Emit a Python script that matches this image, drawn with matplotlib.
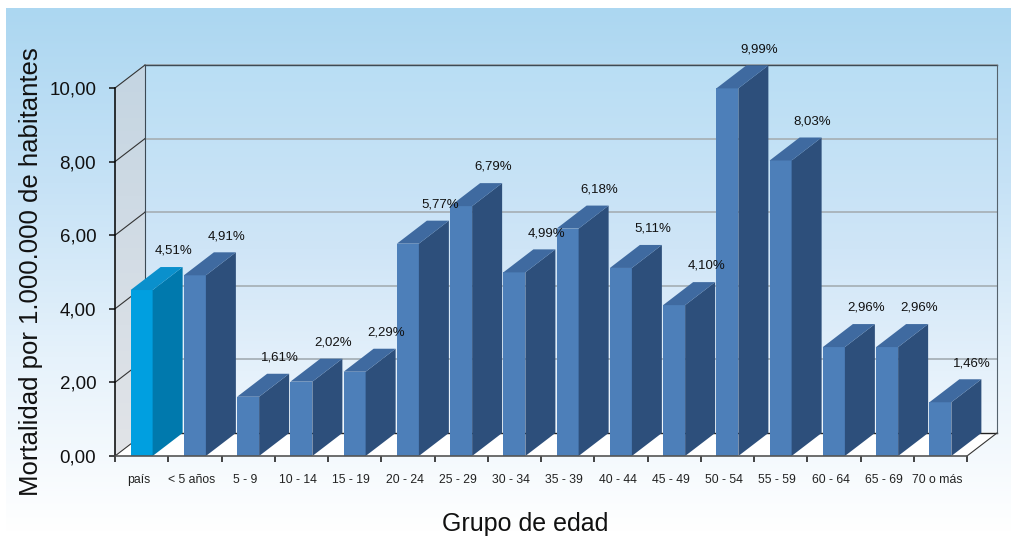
import numpy as np
import matplotlib
matplotlib.use('Agg')
import matplotlib.pyplot as plt
from matplotlib.colors import LinearSegmentedColormap
from matplotlib.patches import Polygon

plt.rcParams['font.family'] = ['Liberation Sans', 'DejaVu Sans']

groups = ['país', '< 5 años', '5 - 9', '10 - 14', '15 - 19', '20 - 24', '25 - 29', '30 - 34',
          '35 - 39', '40 - 44', '45 - 49', '50 - 54', '55 - 59', '60 - 64', '65 - 69', '70 o más']
values = [4.51, 4.91, 1.61, 2.02, 2.29, 5.77, 6.79, 4.99, 6.18, 5.11, 4.10, 9.99, 8.03, 2.96, 2.96, 1.46]
labels = ['4,51%', '4,91%', '1,61%', '2,02%', '2,29%', '5,77%', '6,79%', '4,99%',
          '6,18%', '5,11%', '4,10%', '9,99%', '8,03%', '2,96%', '2,96%', '1,46%']
yticks = [0, 2, 4, 6, 8, 10]
ylabels = ['0,00', '2,00', '4,00', '6,00', '8,00', '10,00']

W, H = 1011, 538
fig = plt.figure(figsize=(W / 100, H / 100), dpi=100, facecolor='white')

# background panel with the vertical fade
bg = fig.add_axes([0, 0, 1, 1])
fade = LinearSegmentedColormap.from_list('fade', ['#acd7f1', '#c6e2f6', '#e6f2fb', '#ffffff'])
bg.imshow(np.linspace(0, 1, 256)[:, None], cmap=fade, extent=(6, W, 532, 8), aspect='auto')
bg.set_xlim(0, W)
bg.set_ylim(H, 0)
bg.axis('off')

# front plane of the box: 115..967 px wide, 456..88 px high
ax = fig.add_axes([115 / W, (H - 456) / H, (967 - 115) / W, (456 - 88) / H])
ax.patch.set_alpha(0)
x0, x1 = -0.5, 15.5
dx, dy = 30 / 53.25, 23 / 36.8
width = 22 / 53.25

# back wall
wall_cmap = LinearSegmentedColormap.from_list('wall', ['#b9def4', '#cfe5f7', '#f0f7fd'])
ax.imshow(np.linspace(0, 1, 256)[:, None], cmap=wall_cmap, aspect='auto', zorder=1, clip_on=False,
          extent=(x0 + dx, x1 + dx, dy, 10 + dy))
# side wall
side_cmap = LinearSegmentedColormap.from_list('side', ['#c4d5e2', '#e2e4e8'])
side_img = ax.imshow(np.linspace(0, 1, 256)[:, None], cmap=side_cmap, aspect='auto', zorder=1,
                     extent=(x0, x0 + dx, 0, 10 + dy))
side_poly = Polygon([(x0, 0), (x0 + dx, dy), (x0 + dx, 10 + dy), (x0, 10)], transform=ax.transData,
                    fc='none', ec='none', clip_on=False)
ax.add_patch(side_poly)
side_img.set_clip_path(side_poly)
side_img.set_clip_box(fig.bbox)
# floor
ax.fill([x0, x0 + dx, x1 + dx, x1], [0, dy, dy, 0], color='white', zorder=1.5, clip_on=False)

for t in yticks:
    if t > 0:
        ax.plot([x0 + dx, x1 + dx], [t + dy, t + dy], color='#a8b2b8', lw=1.3, zorder=2, clip_on=False)
    ax.plot([x0, x0 + dx], [t, t + dy], color='#333333', lw=0.8, zorder=2, clip_on=False)
ax.plot([x0 + dx, x1 + dx], [10 + dy, 10 + dy], color='#3c4a55', lw=1.0, zorder=2.1, clip_on=False)
ax.plot([x0 + dx, x1 + dx], [dy, dy], color='#222222', lw=1.0, zorder=2.1, clip_on=False)
ax.plot([x0 + dx, x0 + dx], [dy, 10 + dy], color='#3c4a55', lw=0.8, zorder=2.1, clip_on=False)
ax.plot([x1 + dx, x1 + dx], [dy, 10 + dy], color='#55626c', lw=0.8, zorder=2.1, clip_on=False)
ax.plot([x1, x1 + dx], [0, dy], color='#333333', lw=0.8, zorder=2.1, clip_on=False)

colors = ['#009fe0'] + ['#4d7fb9'] * 15
sides = ['#0079ad'] + ['#2d4f7b'] * 15
tops = ['#0a90cc'] + ['#3f6aa0'] * 15
ax.bar(range(len(values)), values, width=width, color=colors, zorder=3)
for i, v in enumerate(values):
    l, r = i - width / 2, i + width / 2
    ax.fill([r, r + dx, r + dx, r], [0, dy, v + dy, v], color=sides[i], lw=0, zorder=3, clip_on=False)
    ax.fill([l, r, r + dx, l + dx], [v, v, v + dy, v + dy], color=tops[i], lw=0, zorder=3, clip_on=False)
    ax.text(i + 0.6, v + dy + 0.44, labels[i], ha='center', va='center', fontsize=9.5,
            color='#111111', zorder=4)
    ax.text(i - 0.06, -0.65, groups[i], ha='center', va='center', fontsize=8.8, color='#222222')

ax.set_xlim(x0, x1)
ax.set_ylim(0, 10)
ax.set_xticks(np.arange(x0, x1 + 1), labels=[])
ax.set_yticks(yticks, labels=ylabels, fontsize=13.5, color='#111111')
ax.tick_params(axis='both', length=4.5, width=1.1, color='#111111')
ax.tick_params(axis='y', pad=9)
for name in ['top', 'right']:
    ax.spines[name].set_visible(False)
ax.spines['left'].set_linewidth(1.1)
ax.spines['left'].set_zorder(5)
ax.spines['bottom'].set_color('#555555')
ax.spines['bottom'].set_linewidth(1.2)
ax.spines['bottom'].set_zorder(5)

fig.text(31 / W, 1 - 272 / H, 'Mortalidad por 1.000.000 de habitantes', rotation=90, ha='center', va='center',
         fontsize=18.5, color='#111111')
fig.text(525 / W, 1 - 524 / H, 'Grupo de edad', ha='center', va='center',
         fontsize=18, color='#111111')

fig.savefig('out.png', dpi=100)
